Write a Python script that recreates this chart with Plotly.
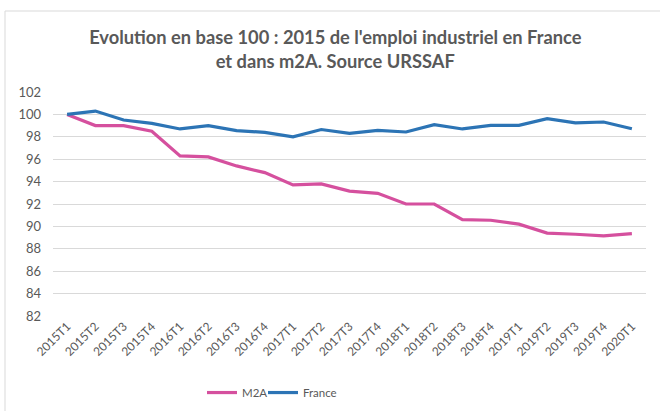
import plotly.graph_objects as go

categories = ["2015T1","2015T2","2015T3","2015T4","2016T1","2016T2","2016T3","2016T4",
              "2017T1","2017T2","2017T3","2017T4","2018T1","2018T2","2018T3","2018T4",
              "2019T1","2019T2","2019T3","2019T4","2020T1"]
m2a = [100.0, 99.0, 99.0, 98.5, 96.3, 96.2, 95.4, 94.8, 93.7, 93.8, 93.15, 92.95,
       92.0, 92.0, 90.6, 90.55, 90.2, 89.4, 89.3, 89.15, 89.35]
france = [100.0, 100.3, 99.5, 99.2, 98.7, 99.0, 98.55, 98.4, 98.0, 98.65, 98.3, 98.58,
          98.43, 99.08, 98.7, 99.02, 99.02, 99.62, 99.25, 99.32, 98.72]
y_ticks = list(range(82, 103, 2))

grey = "#595959"
font_family = "Lato"
fig = go.Figure()
fig.add_trace(go.Scatter(x=categories, y=m2a, name="M2A", mode="lines", legend="legend",
                         line=dict(color="#D5509E", width=3.2)))
fig.add_trace(go.Scatter(x=categories, y=france, name="France", mode="lines", legend="legend2",
                         line=dict(color="#2C74B5", width=3.2)))

legend_common = dict(orientation="h", xanchor="left", y=-0.277, yanchor="top",
                     font=dict(size=11.5, color=grey, family=font_family), itemwidth=30,
                     bgcolor="rgba(0,0,0,0)")

fig.update_layout(
    width=660, height=411,
    margin=dict(l=53, r=14, t=92, b=95, autoexpand=False),
    paper_bgcolor="white", plot_bgcolor="white",
    font=dict(family=font_family, color=grey, size=12),
    title=dict(text="<b>Evolution en base 100 : 2015 de l'emploi industriel en France<br>et dans m2A. Source URSSAF</b>",
               x=0.508, xanchor="center", y=0.892, yanchor="top",
               font=dict(size=18.3, color=grey, family=font_family)),
    showlegend=True,
    legend=dict(x=(202 - 53) / 593, **legend_common),
    legend2=dict(x=(263 - 53) / 593, **legend_common),
    xaxis=dict(type="category", tickangle=-45, showgrid=False, showline=False,
               range=[-0.5, len(categories) - 0.5], automargin=False,
               ticks="", tickfont=dict(size=12, color=grey)),
    yaxis=dict(range=[82, 102], tickvals=y_ticks, showgrid=True, gridcolor="#D9D9D9",
               gridwidth=1, zeroline=False, showline=False, ticks="", automargin=False,
               tickfont=dict(size=13, color=grey), ticklabelstandoff=11),
    shapes=[dict(type="rect", xref="paper", yref="paper",
                 x0=(5-53)/593, x1=(664-53)/593, y0=(316-415)/224, y1=(316-11)/224,
                 line=dict(color="#D9D9D9", width=1), fillcolor="rgba(0,0,0,0)")],
)

fig.write_html("out.html", config={"displayModeBar": False},
               post_script="document.body.style.margin='0';document.body.style.overflow='hidden';")
